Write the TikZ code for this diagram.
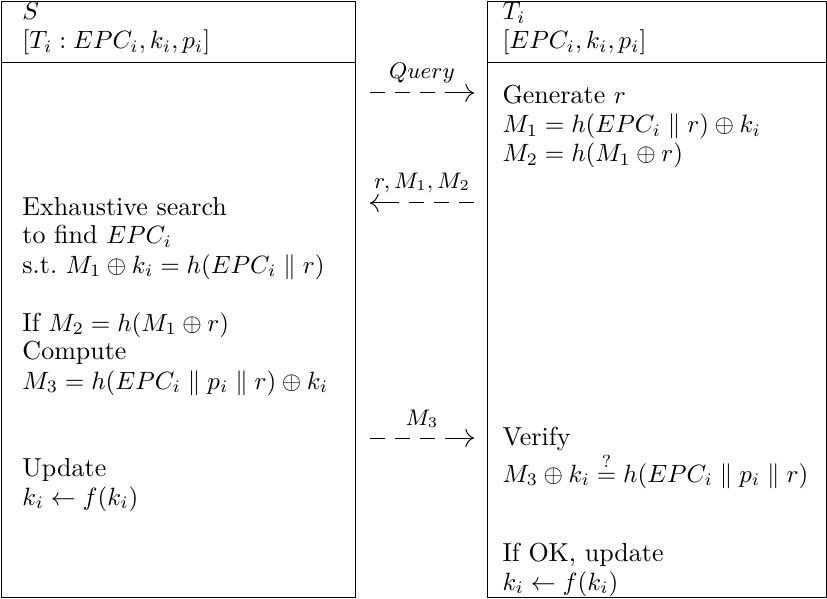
\documentclass[tikz,border=0pt]{standalone}
\usepackage{amsmath}
\usepackage{amssymb}
\usepackage{tikz}
\usetikzlibrary{arrows.meta, positioning}

\begin{document}
\begin{tikzpicture}[
  x=0.4pt, y=-0.4pt,
  party/.style={draw, line width=0.4pt, minimum width=141.6pt, minimum height=238.4pt,
                anchor=north west, inner sep=0pt},
  txt/.style={inner sep=0pt, anchor=base west, align=left,
              font=\fontsize{10.4}{11.6}\selectfont},
  msg/.style={line width=0.4pt,
              dash pattern=on 6pt off 4pt on 6pt off 4pt on 6pt off 4pt on 11.6pt off 0pt,
              -{Computer Modern Rightarrow[scale=1.4]}},
  lbl/.style={font=\fontsize{8.7}{10}\selectfont, inner sep=1pt}
]
  \useasboundingbox (0,0) rectangle (827,599);

  % Server and tag frames
  \node[party] (srv) at (1,1) {};
  \node[party, minimum width=135.6pt] (tag) at (487,1) {};
  \coordinate (hdr) at (0,63);
  \draw (srv.west |- hdr) -- (srv.east |- hdr);
  \draw (tag.west |- hdr) -- (tag.east |- hdr);

  % Headers (anchored at the baseline of the last line)
  \node[txt] (srvname) at (22,49) {$S$\\$[T_i : EPC_i, k_i, p_i]$};
  \node[txt] (tagname) at (502,49) {$T_i$\\$[EPC_i, k_i, p_i]$};

  % Tag computations
  \node[txt] (gen) at (502,162) {Generate $r$\\$M_1 = h(EPC_i \parallel r) \oplus k_i$\\$M_2 = h(M_1 \oplus r)$};
  \node[txt] (verify) at (502,482) {Verify\\$M_3 \oplus k_i \stackrel{?}{=} h(EPC_i \parallel p_i \parallel r)$};
  \node[txt] (tagupd) at (502,590) {If OK, update\\$k_i \leftarrow f(k_i)$};

  % Server computations
  \node[txt] (search) at (22,273) {Exhaustive search\\to find $EPC_i$\\s.t.\ $M_1 \oplus k_i = h(EPC_i \parallel r)$};
  \node[txt] (check) at (22,389) {If $M_2 = h(M_1 \oplus r)$\\Compute\\$M_3 = h(EPC_i \parallel p_i \parallel r) \oplus k_i$};
  \node[txt] (srvupd) at (22,505) {Update\\$k_i \leftarrow f(k_i)$};

  % Messages
  \coordinate (q1) at (370,93);
  \coordinate (q2) at (474,93);
  \coordinate (m1) at (370,203);
  \coordinate (m2) at (474,203);
  \coordinate (v1) at (370,438);
  \coordinate (v2) at (474,438);
  \draw[msg] (q1) -- (q2) node[lbl, midway, above=3pt] {$Query$};
  \draw[msg] (m2) -- (m1) node[lbl, midway, above=3pt] {$r,M_1,M_2$};
  \draw[msg] (v1) -- (v2) node[lbl, midway, above=3pt] {$M_3$};
\end{tikzpicture}
\end{document}
